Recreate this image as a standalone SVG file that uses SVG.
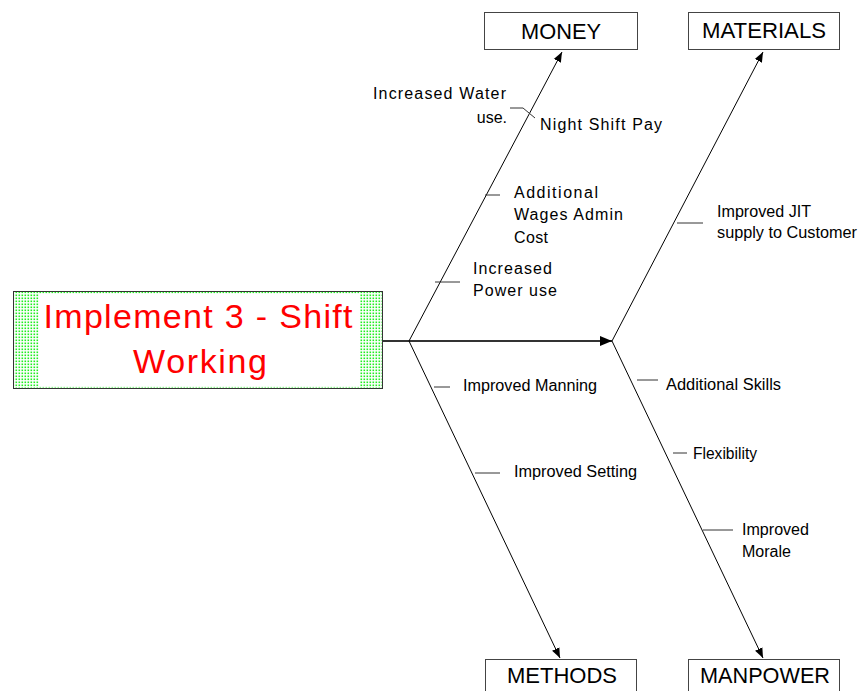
<svg xmlns="http://www.w3.org/2000/svg" width="861" height="691" viewBox="0 0 861 691">
  <defs>
    <pattern id="dots" width="3" height="3" patternUnits="userSpaceOnUse">
      <rect width="3" height="3" fill="#ffffff"/>
      <rect x="0.5" y="0.5" width="1.6" height="1.6" fill="#22ee22"/>
    </pattern>
    <marker id="arrow" viewBox="0 0 10 10" refX="10" refY="5" markerWidth="10" markerHeight="10" markerUnits="userSpaceOnUse" orient="auto">
      <path d="M0,1 L10,5 L0,9 Z" fill="#000"/>
    </marker>
    <marker id="arrowBig" viewBox="0 0 12 10" refX="12" refY="5" markerWidth="12" markerHeight="10" markerUnits="userSpaceOnUse" orient="auto">
      <path d="M0,0 L12,5 L0,10 Z" fill="#000"/>
    </marker>
  </defs>
  <style>
    .cat rect { fill: #fff; stroke: #444; stroke-width: 1; }
    .cat text { font-family: "Liberation Sans", Arial, sans-serif; font-size: 22px; fill: #000; text-anchor: middle; }
    .lbl { font-family: "Liberation Sans", Arial, sans-serif; font-size: 16px; fill: #000; }
    .bone { stroke: #000; stroke-width: 1; fill: none; }
    .tick { stroke: #333; stroke-width: 1; fill: none; }
    .head text { font-family: "Liberation Sans", Arial, sans-serif; font-size: 34px; fill: #ff0000; text-anchor: middle; }
  </style>

  <!-- effect box -->
  <g id="effect" class="head">
    <rect x="13.5" y="291.5" width="369" height="97" fill="url(#dots)" stroke="#333" stroke-width="1"/>
    <rect x="39" y="294" width="321" height="92" fill="#fff"/>
    <text x="198" y="328" textLength="309" lengthAdjust="spacing">Implement 3 - Shift</text>
    <text x="200" y="373" textLength="134" lengthAdjust="spacing">Working</text>
  </g>

  <!-- category boxes -->
  <g id="money" class="cat">
    <rect x="484.5" y="12.5" width="153" height="37"/>
    <text x="561" y="39" textLength="80" lengthAdjust="spacingAndGlyphs">MONEY</text>
  </g>
  <g id="materials" class="cat">
    <rect x="688.5" y="12.5" width="151" height="37"/>
    <text x="764" y="38" textLength="124" lengthAdjust="spacingAndGlyphs">MATERIALS</text>
  </g>
  <g id="methods" class="cat">
    <rect x="485.5" y="659.5" width="151" height="40"/>
    <text x="562" y="683" textLength="110" lengthAdjust="spacingAndGlyphs">METHODS</text>
  </g>
  <g id="manpower" class="cat">
    <rect x="688.5" y="659.5" width="151" height="40"/>
    <text x="765" y="683" textLength="130" lengthAdjust="spacingAndGlyphs">MANPOWER</text>
  </g>

  <!-- spine, bones and cause ticks -->
  <g id="connectors">
    <line x1="383" y1="341" x2="612" y2="341" stroke="#333" stroke-width="2" marker-end="url(#arrowBig)"/>
    <line class="bone" x1="409" y1="341" x2="562" y2="52" marker-end="url(#arrow)"/>
    <line class="bone" x1="612" y1="341" x2="763" y2="52" marker-end="url(#arrow)"/>
    <line class="bone" x1="409" y1="341" x2="560" y2="658" marker-end="url(#arrow)"/>
    <line class="bone" x1="612" y1="341" x2="763" y2="658" marker-end="url(#arrow)"/>

    <polyline class="tick" points="510,108 523,108 535,118"/>
    <line class="tick" x1="485" y1="195" x2="500" y2="195"/>
    <line class="tick" x1="435" y1="282" x2="460" y2="282"/>
    <line class="tick" x1="677" y1="223" x2="703" y2="223"/>
    <line class="tick" x1="434" y1="387" x2="450" y2="387"/>
    <line class="tick" x1="475" y1="473" x2="500" y2="473"/>
    <line class="tick" x1="637" y1="380" x2="658" y2="380"/>
    <line class="tick" x1="673" y1="453" x2="687" y2="453"/>
    <line class="tick" x1="703" y1="530" x2="733" y2="530"/>
  </g>

  <!-- cause labels -->
  <g id="causes">
    <text class="lbl" x="373" y="99" textLength="133" lengthAdjust="spacing">Increased Water</text>
    <text class="lbl" x="507" y="123" text-anchor="end">use.</text>
    <text class="lbl" x="540" y="130" textLength="122" lengthAdjust="spacing">Night Shift Pay</text>
    <text class="lbl" x="514" y="198" textLength="84" lengthAdjust="spacing">Additional</text>
    <text class="lbl" x="514" y="220" textLength="109" lengthAdjust="spacing">Wages Admin</text>
    <text class="lbl" x="514" y="243" textLength="34" lengthAdjust="spacing">Cost</text>
    <text class="lbl" x="473" y="274" textLength="79" lengthAdjust="spacing">Increased</text>
    <text class="lbl" x="473" y="296" textLength="84" lengthAdjust="spacing">Power use</text>
    <text class="lbl" x="717" y="217" textLength="94" lengthAdjust="spacingAndGlyphs">Improved JIT</text>
    <text class="lbl" x="717" y="238" textLength="140" lengthAdjust="spacingAndGlyphs">supply to Customer</text>
    <text class="lbl" x="463" y="391" textLength="134" lengthAdjust="spacingAndGlyphs">Improved Manning</text>
    <text class="lbl" x="514" y="477" textLength="123" lengthAdjust="spacingAndGlyphs">Improved Setting</text>
    <text class="lbl" x="666" y="390" textLength="115" lengthAdjust="spacingAndGlyphs">Additional Skills</text>
    <text class="lbl" x="693" y="459" textLength="64" lengthAdjust="spacingAndGlyphs">Flexibility</text>
    <text class="lbl" x="742" y="535" textLength="67" lengthAdjust="spacingAndGlyphs">Improved</text>
    <text class="lbl" x="742" y="557" textLength="49" lengthAdjust="spacingAndGlyphs">Morale</text>
  </g>
</svg>
